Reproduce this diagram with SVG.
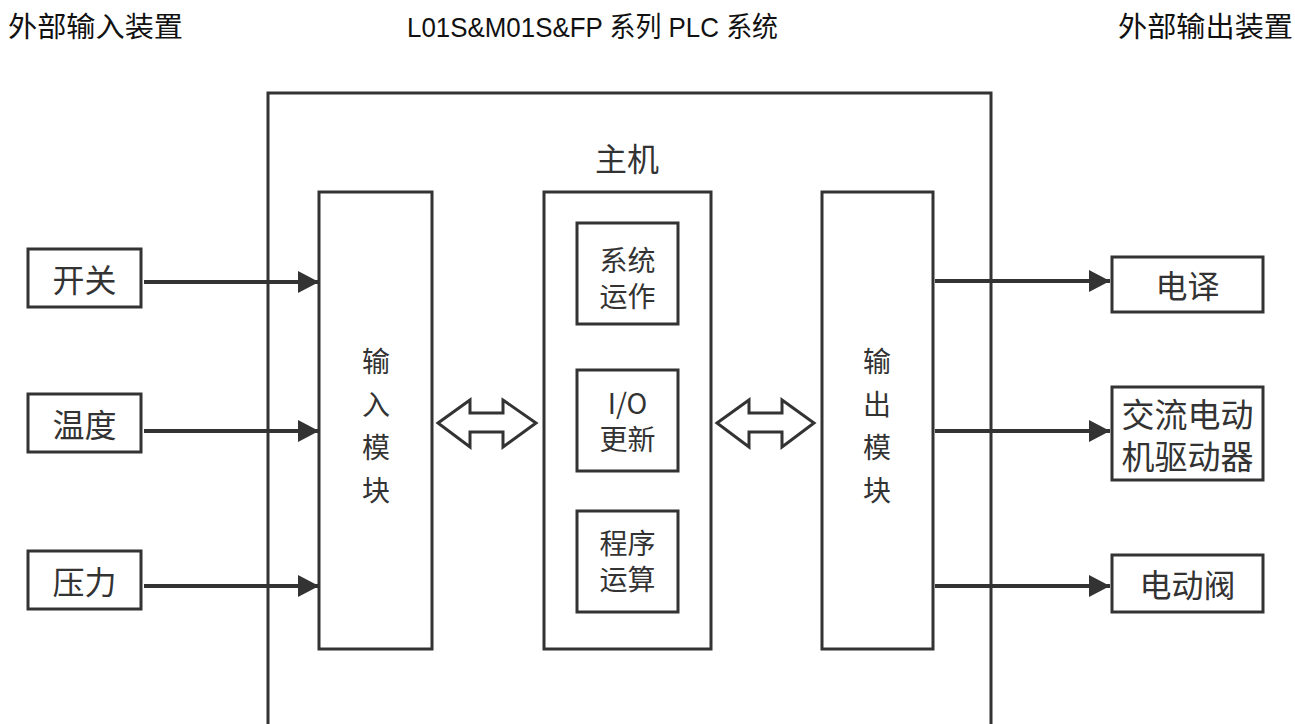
<svg xmlns="http://www.w3.org/2000/svg" width="1295" height="724" viewBox="0 0 1295 724">
<style>
.box{fill:#fff;stroke:#333;stroke-width:3}
.frame{fill:none;stroke:#333;stroke-width:3}
.t{font-family:"Noto Sans CJK SC","Noto Sans",sans-serif;fill:#333;text-anchor:middle;dominant-baseline:central}
.h{font-family:"Liberation Serif","Noto Sans CJK SC",serif;fill:#111;font-size:28px}
.hl{font-family:"Liberation Sans","Noto Sans CJK SC",sans-serif;fill:#111;font-size:28px}
.conn{stroke:#333;stroke-width:4;fill:none}
.dbl{fill:#fff;stroke:#333;stroke-width:3;stroke-linejoin:miter}
</style>
<defs>
<marker id="ah" markerWidth="22" markerHeight="24" refX="21" refY="11" orient="auto" markerUnits="userSpaceOnUse">
<polygon points="0,0 21,11 0,22" fill="#333"/>
</marker>
</defs>
<rect width="1295" height="724" fill="#fff"/>

<g id="headers">
<text class="h" x="8" y="37" textLength="175" lengthAdjust="spacingAndGlyphs">外部输入装置</text>
<text class="hl" x="407" y="37" textLength="371" lengthAdjust="spacingAndGlyphs">L01S&amp;M01S&amp;FP 系列 PLC 系统</text>
<text class="h" x="1118" y="37" textLength="175" lengthAdjust="spacingAndGlyphs">外部输出装置</text>
</g>

<g id="plc-frame">
<path class="frame" d="M268,726 V93 H991 V726"/>
<text class="t" x="627" y="157" font-size="32">主机</text>
</g>

<g id="input-module">
<rect class="box" x="319" y="192" width="113" height="457"/>
<text class="t" font-size="28"><tspan x="376" y="360">输</tspan><tspan x="376" y="403">入</tspan><tspan x="376" y="446">模</tspan><tspan x="376" y="489">块</tspan></text>
</g>

<g id="host">
<rect class="box" x="544" y="192" width="167" height="457"/>
</g>
<g id="sys-op">
<rect class="box" x="577" y="223" width="101" height="101"/>
<text class="t" font-size="28"><tspan x="627.5" y="259">系统</tspan><tspan x="627.5" y="295">运作</tspan></text>
</g>
<g id="io-update">
<rect class="box" x="577" y="370" width="101" height="101"/>
<text class="t" font-size="28"><tspan x="627.5" y="402">I/O</tspan><tspan x="627.5" y="438">更新</tspan></text>
</g>
<g id="prog-calc">
<rect class="box" x="577" y="511" width="101" height="101"/>
<text class="t" font-size="28"><tspan x="627.5" y="542">程序</tspan><tspan x="627.5" y="578">运算</tspan></text>
</g>

<g id="output-module">
<rect class="box" x="822" y="192" width="111" height="457"/>
<text class="t" font-size="28"><tspan x="877" y="360">输</tspan><tspan x="877" y="403">出</tspan><tspan x="877" y="446">模</tspan><tspan x="877" y="489">块</tspan></text>
</g>

<g id="in-switch">
<rect class="box" x="28" y="249" width="113" height="58"/>
<text class="t" x="84.5" y="278" font-size="32">开关</text>
</g>
<g id="in-temp">
<rect class="box" x="28" y="394" width="113" height="58"/>
<text class="t" x="84.5" y="423" font-size="32">温度</text>
</g>
<g id="in-pressure">
<rect class="box" x="28" y="551" width="113" height="58"/>
<text class="t" x="84.5" y="580" font-size="32">压力</text>
</g>

<g id="out-relay">
<rect class="box" x="1112" y="257" width="151" height="55"/>
<text class="t" x="1187.5" y="284" font-size="32">电译</text>
</g>
<g id="out-drive">
<rect class="box" x="1112" y="387" width="151" height="93"/>
<text class="t" font-size="33"><tspan x="1187.5" y="413">交流电动</tspan><tspan x="1187.5" y="455">机驱动器</tspan></text>
</g>
<g id="out-valve">
<rect class="box" x="1112" y="555" width="151" height="57"/>
<text class="t" x="1187.5" y="583" font-size="32">电动阀</text>
</g>

<g id="connectors">
<line class="conn" x1="144" y1="282" x2="319" y2="282" marker-end="url(#ah)"/>
<line class="conn" x1="144" y1="431" x2="319" y2="431" marker-end="url(#ah)"/>
<line class="conn" x1="144" y1="586" x2="319" y2="586" marker-end="url(#ah)"/>
<line class="conn" x1="935" y1="281" x2="1110" y2="281" marker-end="url(#ah)"/>
<line class="conn" x1="935" y1="431" x2="1110" y2="431" marker-end="url(#ah)"/>
<line class="conn" x1="935" y1="586" x2="1110" y2="586" marker-end="url(#ah)"/>
<polygon class="dbl" points="438,423 470,400 470,413 503,413 503,400 536,423 503,447 503,432 470,432 470,447"/>
<polygon class="dbl" points="717,423 749,400 749,413 782,413 782,400 814,423 782,447 782,432 749,432 749,447"/>
</g>
</svg>
